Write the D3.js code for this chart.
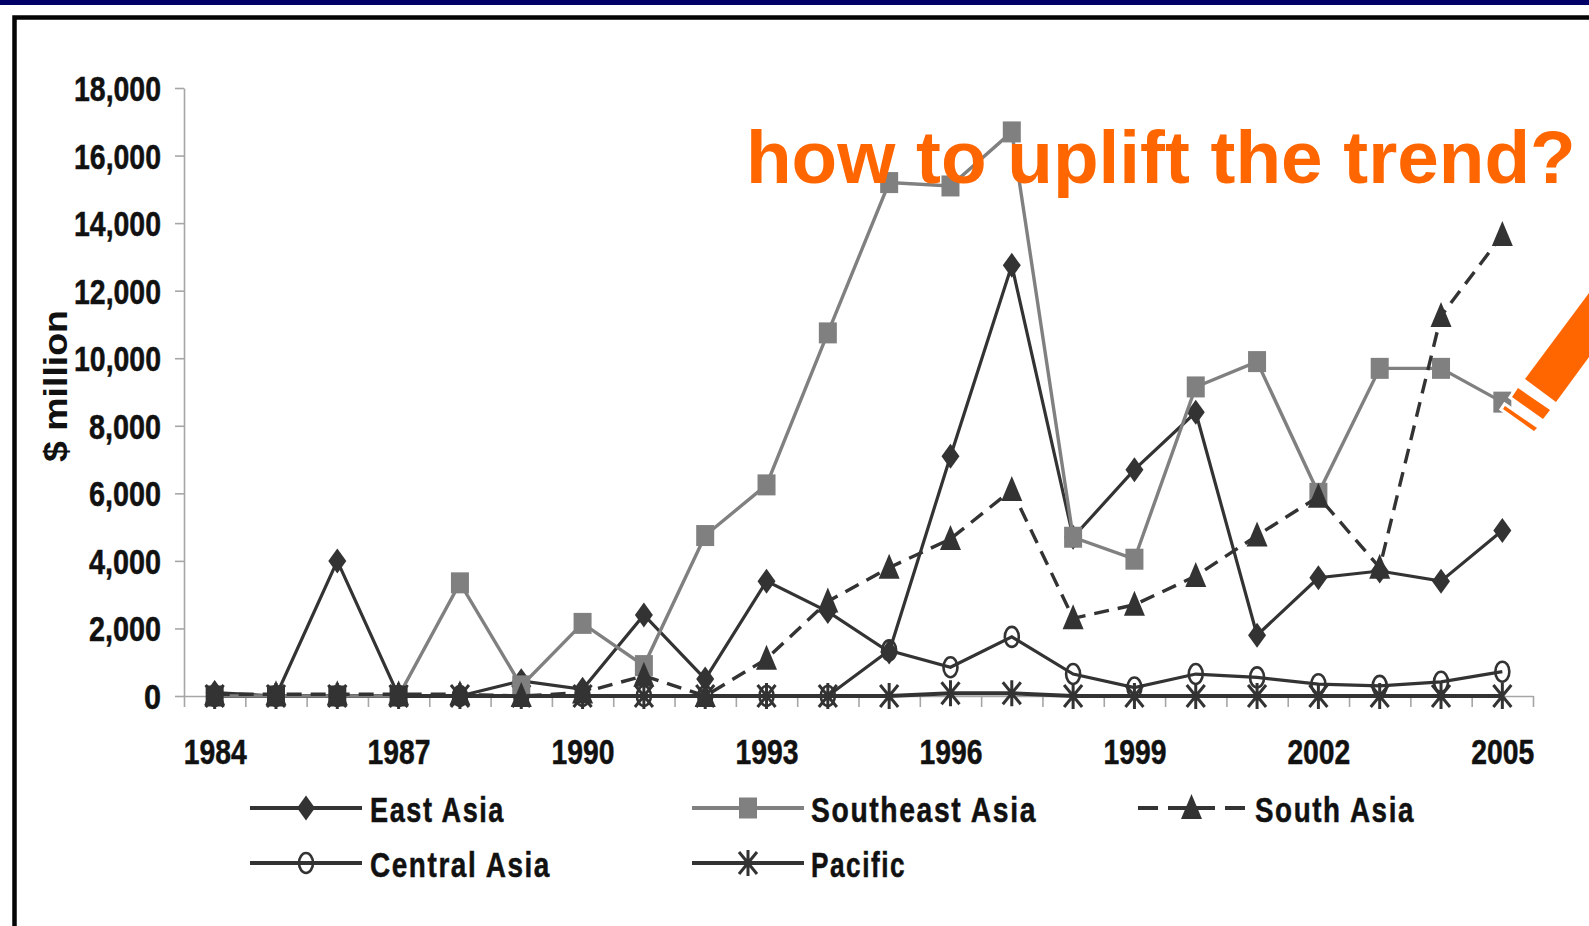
<!DOCTYPE html>
<html>
<head>
<meta charset="utf-8">
<script src="https://cdn.jsdelivr.net/npm/d3@7"></script>
<style>
  html, body { margin: 0; padding: 0; background: #fff; overflow: hidden; }
  svg { display: block; }
  text { font-family: "Liberation Sans", Arial, sans-serif; font-weight: 700; fill: #111; }
  .heavy { stroke: #111; stroke-width: 0.5; }
</style>
</head>
<body>
<div id="chart"></div>
<script>
// FDI inflows by Asia-Pacific subregion, 1984-2005 ($ million)
const YEARS = [1984, 1985, 1986, 1987, 1988, 1989, 1990, 1991, 1992, 1993, 1994,
               1995, 1996, 1997, 1998, 1999, 2000, 2001, 2002, 2003, 2004, 2005];
const YEAR_LABELS = [1984, 1987, 1990, 1993, 1996, 1999, 2002, 2005];
const Y_TICKS = [0, 2000, 4000, 6000, 8000, 10000, 12000, 14000, 16000, 18000];

const EAST_ASIA = [100, 0, 4000, 0, 0, 450, 200, 2400, 500, 3400, 2500,
                   1300, 7100, 12750, 4700, 6700, 8400, 1800, 3500, 3700, 3400, 4900];
const SOUTHEAST_ASIA = [0, 0, 0, 0, 3350, 300, 2150, 900, 4750, 6250, 10750,
                        15200, 15100, 16700, 4700, 4050, 9150, 9900, 6000, 9700, 9700, 8700];
const SOUTH_ASIA = [50, 50, 50, 50, 50, 0, 100, 600, 0, 1100, 2800,
                    3800, 4650, 6100, 2300, 2700, 3550, 4750, 5900, 3800, 11250, 13650];
const CENTRAL_ASIA = [0, 0, 0, 0, 0, 0, 0, 0, 0, 0, 0,
                      1350, 850, 1750, 650, 250, 650, 550, 350, 300, 420, 720];
const PACIFIC = [0, 0, 0, 0, 0, 0, 0, 0, 0, 0, 0,
                 0, 80, 80, 0, 0, 0, 0, 0, 0, 0, 0];

const W = 1589, H = 926;
const m = { t: 88, r: 56, b: 230, l: 184 };
const DARK = '#333333', GREY = '#808080';

const SERIES = [
  { name: 'East Asia', values: EAST_ASIA, color: DARK, marker: 'diamond', width: 3.2, z: 2 },
  { name: 'Southeast Asia', values: SOUTHEAST_ASIA, color: GREY, marker: 'square', width: 3.4, z: 3 },
  { name: 'South Asia', values: SOUTH_ASIA, color: DARK, marker: 'triangle', width: 3.4, z: 4, dash: '15 9' },
  { name: 'Central Asia', values: CENTRAL_ASIA, color: DARK, marker: 'circle', width: 3.2, z: 0 },
  { name: 'Pacific', values: PACIFIC, color: DARK, marker: 'star', width: 4, z: 1 },
];

// legend slots, same order as SERIES
const LEGEND = [
  { x: 250, y: 808, textX: 370, textW: 135 },
  { x: 692, y: 808, textX: 811, textW: 226 },
  { x: 1138, y: 808, textX: 1255, textW: 160, len: 107, dash: '20 10 47 10 20' },
  { x: 250, y: 863, textX: 370, textW: 181 },
  { x: 692, y: 863, textX: 811, textW: 95 },
];

const svg = d3.select('#chart').append('svg').attr('width', W).attr('height', H);

// slide furniture: navy strip and the open black frame
svg.append('rect').attr('width', W).attr('height', 5).attr('fill', '#000066');
svg.append('path')
  .attr('d', `M${W},17.5 H14.5 V${H}`)
  .attr('fill', 'none').attr('stroke', '#050505').attr('stroke-width', 4.5);

const xEdge = d3.scaleLinear().domain([0, YEARS.length]).range([m.l, W - m.r]);
const xBand = d3.scaleBand().domain(YEARS).range([m.l, W - m.r]);
const x = yr => xBand(yr) + xBand.bandwidth() / 2;
const y = d3.scaleLinear().domain([0, 18000]).range([H - m.b, m.t]);

// axes
const axisColor = '#a6a6a6';
const gx = svg.append('g').attr('transform', `translate(0,${H - m.b})`)
  .call(d3.axisBottom(xEdge).tickValues(d3.range(YEARS.length + 1)).tickFormat('').tickSize(11).tickSizeOuter(0));
const gy = svg.append('g').attr('transform', `translate(${m.l},0)`)
  .call(d3.axisLeft(y).tickValues(Y_TICKS).tickSize(9).tickSizeOuter(0).tickFormat(''));
[gx, gy].forEach(g => {
  g.selectAll('path, line').attr('stroke', axisColor).attr('stroke-width', 1.6);
});

// y labels squeezed to the narrow look of the slide type
svg.append('g').selectAll('text').data(Y_TICKS).join('text')
  .attr('class', 'heavy')
  .attr('x', 161).attr('y', d => y(d) + 13)
  .attr('text-anchor', 'end')
  .attr('font-size', 35)
  .attr('textLength', d => d === 0 ? 17 : (d >= 10000 ? 87 : 72))
  .attr('lengthAdjust', 'spacingAndGlyphs')
  .text(d => d3.format(',')(d));

svg.append('g').selectAll('text').data(YEAR_LABELS).join('text')
  .attr('class', 'heavy')
  .attr('x', d => x(d) + 0.5).attr('y', 764)
  .attr('text-anchor', 'middle')
  .attr('font-size', 35)
  .attr('textLength', 63)
  .attr('lengthAdjust', 'spacingAndGlyphs')
  .text(d => d);

svg.append('text')
  .attr('transform', 'translate(67,386) rotate(-90)')
  .attr('text-anchor', 'middle')
  .attr('font-size', 33)
  .attr('textLength', 152)
  .attr('lengthAdjust', 'spacingAndGlyphs')
  .text('$ million');

// markers are a little taller than wide, as in the stretched slide chart
function drawMarker(sel, kind, color) {
  if (kind === 'diamond') {
    sel.append('path').attr('d', 'M0,-12.5 L9,0 L0,12.5 L-9,0 Z').attr('fill', color);
  } else if (kind === 'square') {
    sel.append('rect').attr('x', -9).attr('y', -10.5).attr('width', 18).attr('height', 21).attr('fill', color);
  } else if (kind === 'triangle') {
    sel.append('path').attr('d', 'M0,-14 L10.5,11 L-10.5,11 Z').attr('fill', color);
  } else if (kind === 'circle') {
    sel.append('ellipse').attr('rx', 7).attr('ry', 10).attr('fill', 'none')
      .attr('stroke', color).attr('stroke-width', 2.6);
  } else {
    sel.append('path').attr('d', 'M-9,-11 L9,11 M9,-11 L-9,11 M0,-13 V13')
      .attr('fill', 'none').attr('stroke', color).attr('stroke-width', 3);
  }
}

const line = d3.line().x((d, i) => x(YEARS[i])).y(d => y(d));

// paint order differs from legend order: the pile of zero values reads as a dark blob
const plot = svg.append('g');
d3.sort(SERIES, s => s.z).forEach(s => {
  const g = plot.append('g').attr('class', 'series');
  g.append('path')
    .attr('d', line(s.values))
    .attr('fill', 'none')
    .attr('stroke', s.color)
    .attr('stroke-width', s.width)
    .attr('stroke-dasharray', s.dash || null);
  g.selectAll('g.mark').data(s.values).join('g')
    .attr('class', 'mark')
    .attr('transform', (d, i) => `translate(${x(YEARS[i])},${y(d)})`)
    .each(function (d) {
      drawMarker(d3.select(this), s.marker, d === 0 && s.marker === 'square' ? DARK : s.color);
    });
});

SERIES.forEach((s, k) => {
  const slot = LEGEND[k];
  const len = slot.len || 112;
  svg.append('line')
    .attr('x1', slot.x).attr('x2', slot.x + len)
    .attr('y1', slot.y).attr('y2', slot.y)
    .attr('stroke', s.color).attr('stroke-width', 4)
    .attr('stroke-dasharray', slot.dash || null);
  svg.append('g').attr('transform', `translate(${slot.x + len / 2},${slot.y})`)
    .call(drawMarker, s.marker, s.color);
  svg.append('text')
    .attr('class', 'heavy')
    .attr('x', slot.textX).attr('y', slot.y + 14)
    .attr('font-size', 35)
    .attr('letter-spacing', 2)
    .attr('textLength', slot.textW)
    .attr('lengthAdjust', 'spacingAndGlyphs')
    .text(s.name);
});

// orange call-out and highlighter pen
svg.append('text')
  .attr('x', 746).attr('y', 183)
  .attr('font-size', 74.7)
  .style('fill', '#ff6600')
  .text('how to uplift the trend?');

const PEN_BODY = [[1525, 379], [1556, 402], [1589, 357], [1589, 293]];
const PEN_BAND = [[1518, 388], [1550, 410], [1543, 419], [1512, 397]];
const PEN_TIP = [[1505, 406], [1537, 428], [1534, 431], [1503, 409]];
const pen = svg.append('g');
pen.append('path').attr('d', d3.line()(PEN_BAND) + 'Z M' + PEN_TIP.join('L') + 'Z')
  .attr('fill', '#fff').attr('stroke', '#fff').attr('stroke-width', 6);
[PEN_BODY, PEN_BAND, PEN_TIP].forEach(p => {
  pen.append('path').attr('d', d3.line()(p) + 'Z').attr('fill', '#ff6600');
});
</script>
</body>
</html>
